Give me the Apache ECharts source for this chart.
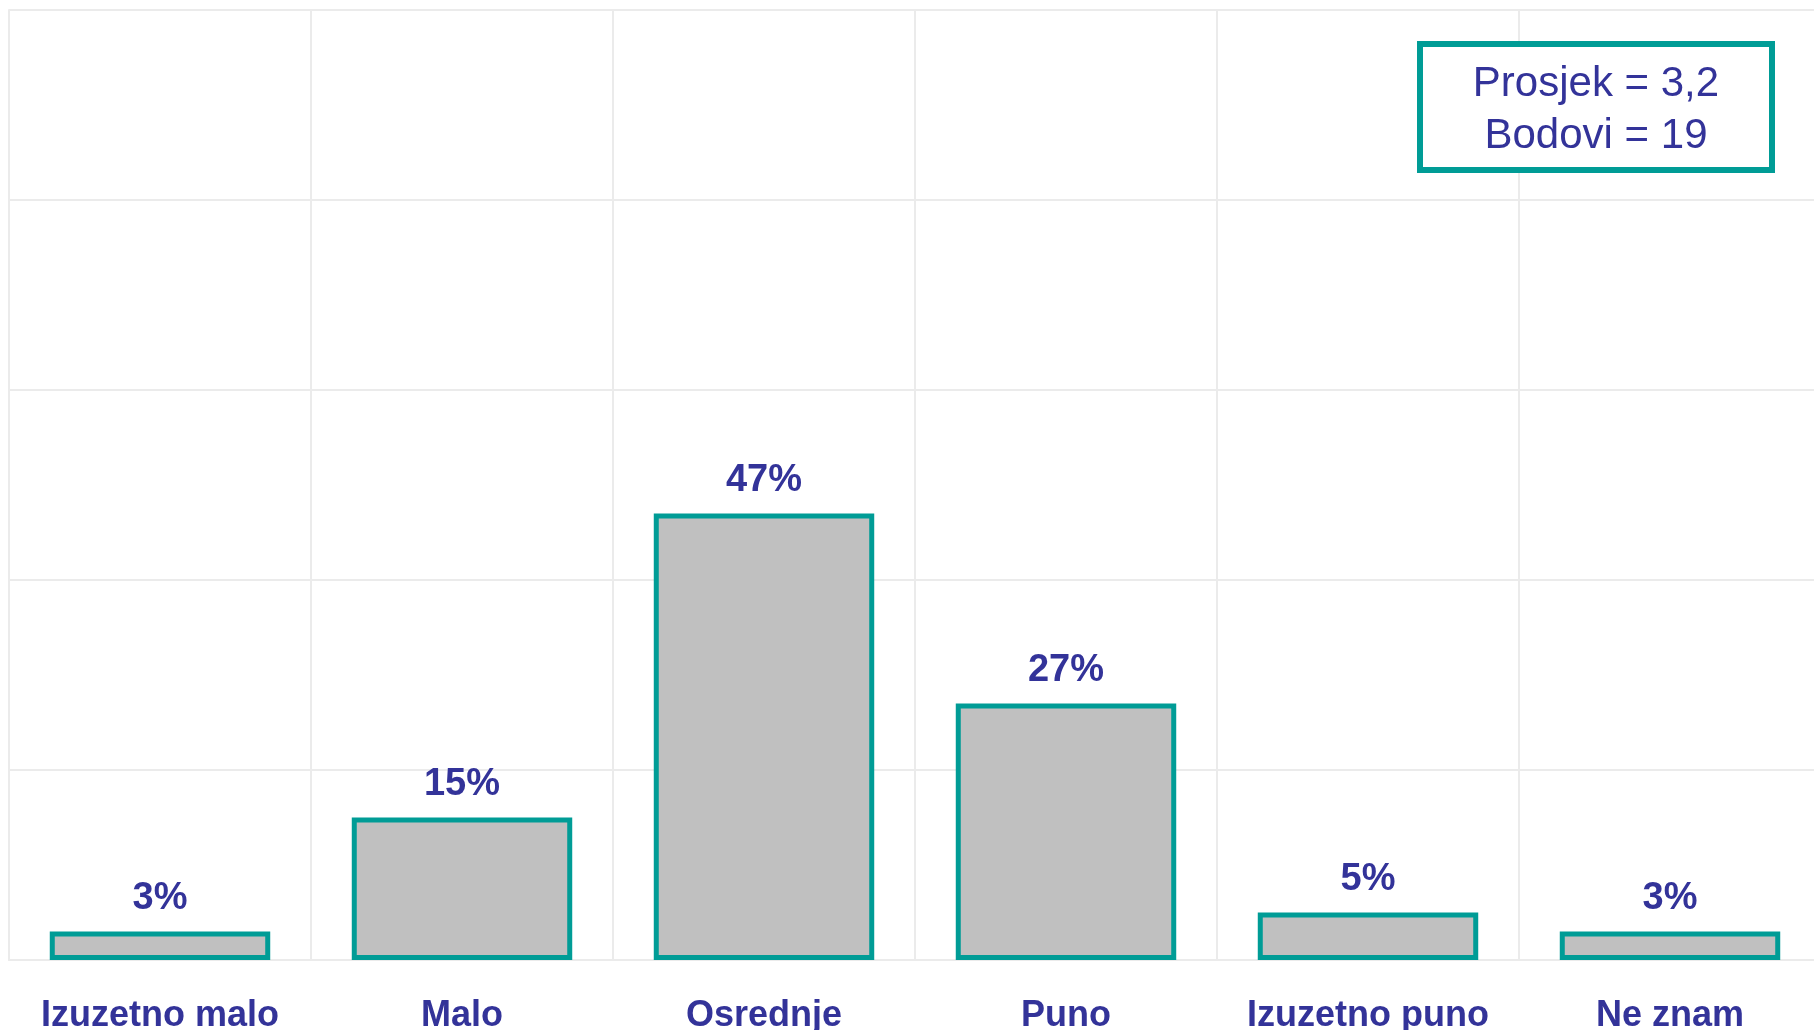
<!DOCTYPE html>
<html>
<head>
<meta charset="utf-8">
<title>Bar chart</title>
<script src="https://cdn.jsdelivr.net/npm/echarts@6/dist/echarts.min.js"></script>
<style>
  html, body { margin: 0; padding: 0; background: #fff; }
  #chart { width: 1814px; height: 1030px; }
</style>
</head>
<body>
<div id="chart"></div>
<script>
var categories = ['Izuzetno malo', 'Malo', 'Osrednje', 'Puno', 'Izuzetno puno', 'Ne znam'];
var percentValues = [3, 15, 47, 27, 5, 3];
var summaryLines = ['Prosjek = 3,2', 'Bodovi = 19'];

var textColor = '#333399';
var teal = '#009C96';
var gridColor = '#EBEBEB';

// init
var myChart = echarts.init(document.getElementById('chart'));

var option = {
  backgroundColor: '#fff',
  animation: false,
  grid: {
    left: 9,
    top: 10,
    bottom: 70,
    width: 1812,
    outerBoundsMode: 'none',
    containLabel: false
  },
  xAxis: {
    type: 'category',
    data: categories,
    axisLine: { show: true, lineStyle: { color: gridColor, width: 2 } },
    axisTick: { show: false },
    splitLine: { show: true, interval: 0, lineStyle: { color: gridColor, width: 2 } },
    axisLabel: {
      interval: 0,
      margin: 38,
      color: textColor,
      fontSize: 36,
      fontWeight: 'bold',
      fontFamily: 'Liberation Sans, Arial, sans-serif'
    }
  },
  yAxis: {
    type: 'value',
    min: 0,
    max: 100,
    interval: 20,
    axisLabel: { show: false },
    axisLine: { show: true, lineStyle: { color: gridColor, width: 2 } },
    axisTick: { show: false },
    splitLine: { show: true, lineStyle: { color: gridColor, width: 2 } }
  },
  series: [
    {
      type: 'bar',
      data: percentValues,
      barWidth: '73%',
      itemStyle: {
        color: '#C0C0C0',
        borderColor: teal,
        borderWidth: 5
      },
      label: {
        show: true,
        position: 'top',
        distance: 14,
        formatter: '{c}%',
        color: textColor,
        fontSize: 38,
        fontWeight: 'bold',
        fontFamily: 'Liberation Sans, Arial, sans-serif'
      }
    }
  ],
  graphic: [
    {
      type: 'rect',
      shape: { x: 1420, y: 44, width: 352, height: 126 },
      style: { fill: '#fff', stroke: teal, lineWidth: 6 },
      z: 10
    },
    {
      type: 'text',
      x: 1596,
      y: 110,
      style: {
        text: summaryLines.join('\n'),
        fill: textColor,
        fontSize: 42,
        lineHeight: 52,
        fontFamily: 'Liberation Sans, Arial, sans-serif',
        align: 'center',
        verticalAlign: 'middle'
      },
      z: 11
    }
  ]
};

if (option && typeof option === 'object') {
  myChart.setOption(option);
}

window.addEventListener('resize', myChart.resize);
</script>
</body>
</html>
